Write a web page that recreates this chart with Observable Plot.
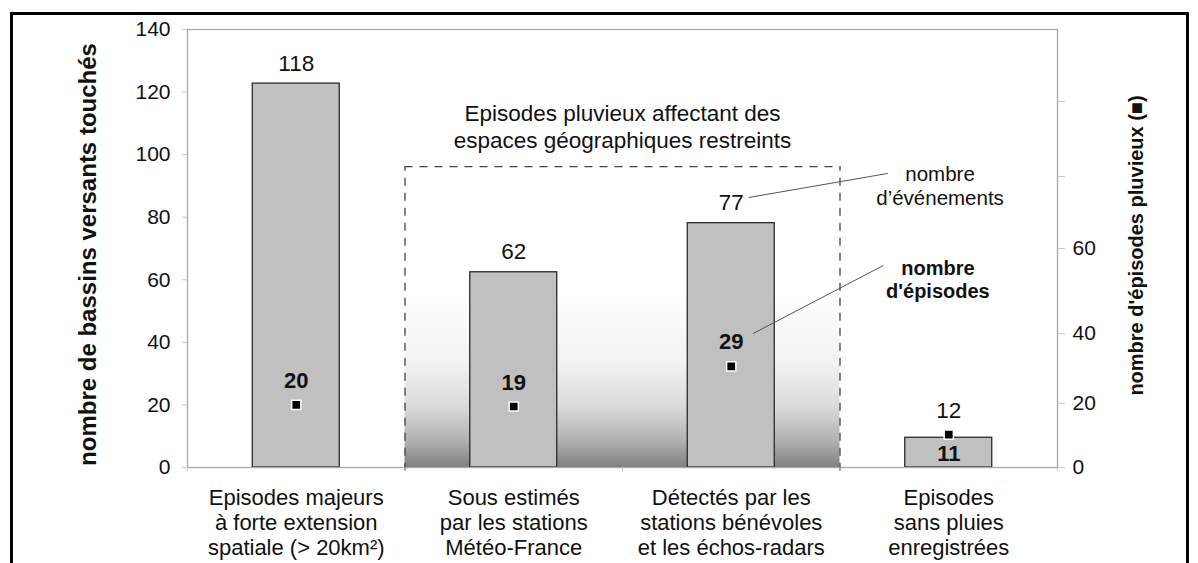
<!DOCTYPE html>
<html>
<head>
<meta charset="utf-8">
<script src="https://cdn.jsdelivr.net/npm/d3@7"></script>
<script src="https://cdn.jsdelivr.net/npm/@observablehq/plot@0.6"></script>
<style>
  html, body { margin: 0; padding: 0; background: #ffffff; }
  #chart { position: absolute; left: 0; top: 0; }
  #frame { position: absolute; left: 10px; top: 12px; width: 1179px; height: 620px;
           border: 3px solid #000; border-bottom: none; box-sizing: border-box; pointer-events: none; }
</style>
</head>
<body>
<div id="chart"></div>
<div id="frame"></div>
<script>
// ---- data ----
const categories = [
  "Episodes majeurs\nà forte extension\nspatiale (> 20km²)",
  "Sous estimés\npar les stations\nMétéo-France",
  "Détectés par les\nstations bénévoles\net les échos-radars",
  "Episodes\nsans pluies\nenregistrées"
];
const basinValues = [122.7, 62.4, 78.1, 9.5];      // bar heights as drawn
const basinLabels = ["118", "62", "77", "12"];
const episodeValues = [20.0, 19.5, 32.3, 10.5];    // square positions as drawn
const episodeLabels = ["20", "19", "29", "11"];
const leftTicks = [0, 20, 40, 60, 80, 100, 120, 140];
const rightTickPositions = [0, 20.5, 42.8, 70.0, 93.0, 117.0];
const rightTickLabels = ["0", "20", "40", "60", "", ""];
const boundaryTicks = [0, 1, 2, 3, 4];

const leftTitle = "nombre de bassins versants touchés";
const rightTitle = "nombre d'épisodes pluvieux (\u25A0)";
const boxTitle = "Episodes pluvieux affectant des\nespaces géographiques restreints";
const noteEvents = "nombre\nd\u2019événements";
const noteEpisodes = "nombre\nd'épisodes";

const table = categories.map((c, i) => ({
  pos: i + 0.5,
  category: c,
  basins: basinValues[i],
  basinLabel: basinLabels[i],
  episodes: episodeValues[i],
  episodeLabel: episodeLabels[i],
  idx: i
}));
const rightLabelMap = new Map(rightTickPositions.map((p, i) => [p, rightTickLabels[i]]));
const catMap = new Map(table.map(d => [d.pos, d.category]));

const font = "'Liberation Sans', Arial, Helvetica, sans-serif";

const gradientDefs = () => {
  const ns = "http://www.w3.org/2000/svg";
  const defs = document.createElementNS(ns, "defs");
  const lg = document.createElementNS(ns, "linearGradient");
  lg.setAttribute("id", "shade");
  lg.setAttribute("x1", "0"); lg.setAttribute("y1", "0");
  lg.setAttribute("x2", "0"); lg.setAttribute("y2", "1");
  [[0, "#fefefe"], [0.4, "#f2f2f2"], [0.65, "#dadada"], [0.85, "#b0b0b0"], [1, "#808080"]].forEach(([o, c]) => {
    const s = document.createElementNS(ns, "stop");
    s.setAttribute("offset", o);
    s.setAttribute("stop-color", c);
    lg.appendChild(s);
  });
  defs.appendChild(lg);
  return defs;
};

const chart = Plot.plot({
  width: 1198,
  height: 563,
  marginLeft: 187,
  marginRight: 141,
  marginTop: 29,
  marginBottom: 96,
  style: { fontFamily: font, fontSize: "20px", color: "#111", background: "transparent" },
  x: { type: "linear", domain: [0, 4], axis: null },
  y: { domain: [0, 140], axis: null },
  marks: [
    gradientDefs,
    // shaded background of the dashed zone
    Plot.rect([0], { x1: 1, x2: 3, y1: 0, y2: 55, fill: "url(#shade)" }),
    // bars
    Plot.rectY(table, {
      x1: d => d.pos - 0.2, x2: d => d.pos + 0.2, y1: 0, y2: "basins",
      fill: "#c0c0c0", stroke: "#2a2a2a", strokeWidth: 1.3
    }),
    // plot frame
    Plot.frame({ stroke: "#a8a8a8", strokeWidth: 1.3 }),
    // dashed box
    Plot.ruleX([1, 3], { y1: -1.2, y2: 96.2, stroke: "#444", strokeWidth: 1.3, strokeDasharray: "8,7" }),
    Plot.ruleY([96.2], { x1: 1, x2: 3, stroke: "#444", strokeWidth: 1.3, strokeDasharray: "8,7" }),
    // left axis
    Plot.axisY(leftTicks, {
      anchor: "left", tickSize: 5, tickPadding: 12, stroke: "#c8c8c8",
      fontSize: 21, fill: "#111", label: null
    }),
    // right axis
    Plot.axisY(rightTickPositions, {
      anchor: "right", tickSize: 7, tickPadding: 8, stroke: "#c8c8c8",
      fontSize: 21, fill: "#111", label: null,
      tickFormat: d => rightLabelMap.get(d)
    }),
    // small boundary ticks below the x axis
    Plot.ruleX(boundaryTicks, { y1: 0, y2: -1.3, stroke: "#c8c8c8" }),
    // category labels
    Plot.axisX(table.map(d => d.pos), {
      anchor: "bottom", tickSize: 0, tickPadding: 20, fontSize: 22, lineHeight: 1.14,
      fill: "#111", label: null, tickFormat: d => catMap.get(d)
    }),
    // axis titles
    Plot.text([leftTitle], {
      frameAnchor: "left", textAnchor: "middle", rotate: -90, dx: -99, dy: 6,
      fontSize: 24, fontWeight: "bold", fill: "#111"
    }),
    Plot.text([rightTitle], {
      frameAnchor: "right", textAnchor: "middle", rotate: -90, dx: 79, dy: -3,
      fontSize: 20, fontWeight: "bold", fill: "#111"
    }),
    // bar value labels
    Plot.text(table.filter(d => d.idx < 3), { x: "pos", y: "basins", text: "basinLabel", dy: -20, fontSize: 22.5, fill: "#111" }),
    Plot.text(table.filter(d => d.idx === 3), { x: "pos", y: "basins", text: "basinLabel", dy: -27, fontSize: 22.5, fill: "#111" }),
    // squares (episodes)
    Plot.dot(table, {
      x: "pos", y: "episodes", symbol: "square", r: 5.2,
      fill: "#000", stroke: "#fff", strokeWidth: 1.5
    }),
    // episode labels (above the square)
    Plot.text(table.filter(d => d.idx < 3), {
      x: "pos", y: "episodes", text: "episodeLabel", dy: -24,
      fontSize: 22, fontWeight: "bold", fill: "#111"
    }),
    // episode label below the square (last category)
    Plot.text(table.filter(d => d.idx === 3), {
      x: "pos", y: "episodes", text: "episodeLabel", dy: 19,
      fontSize: 22, fontWeight: "bold", fill: "#111"
    }),
    // box title
    Plot.text([boxTitle], { x: 2.0, y: 109.2, text: d => d, fontSize: 22.5, lineHeight: 1.2, fill: "#111" }),
    // annotations
    Plot.link([0], { x1: 2.58, y1: 86.3, x2: 3.22, y2: 94.0, stroke: "#555", strokeWidth: 1 }),
    Plot.text([noteEvents], { x: 3.46, y: 90.1, text: d => d, fontSize: 20.5, lineHeight: 1.15, fill: "#111" }),
    Plot.link([0], { x1: 2.60, y1: 42.8, x2: 3.20, y2: 64.6, stroke: "#555", strokeWidth: 1 }),
    Plot.text([noteEpisodes], { x: 3.45, y: 60.2, text: d => d, fontSize: 20, lineHeight: 1.15, fontWeight: "bold", fill: "#111" })
  ]
});

document.getElementById("chart").appendChild(chart);
</script>
</body>
</html>
